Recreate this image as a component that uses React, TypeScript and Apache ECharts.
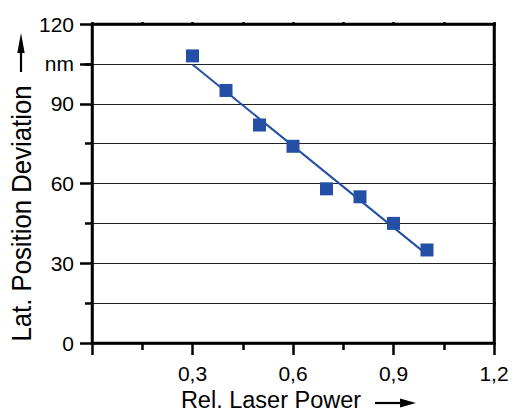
import React, { useEffect, useRef } from "react";
import * as echarts from "echarts";

const laserPower = [0.3, 0.4, 0.5, 0.6, 0.7, 0.8, 0.9, 1.0];
const deviation = [108, 95, 82, 74, 58, 55, 45, 35];
const yLabelValues = [0, 30, 60, 90, 105, 120];
const yLabelTexts: Record<number, string> = { 0: "0", 30: "30", 60: "60", 90: "90", 105: "nm", 120: "120" };
const xTitle = "Rel. Laser Power";
const yTitle = "Lat. Position Deviation";

const FONT = "'Liberation Sans', Arial, Helvetica, sans-serif";
const BLUE = "#2350a5";

function linearFit(xs: number[], ys: number[]): number[][] {
  const n = xs.length;
  const mx = xs.reduce((a, b) => a + b, 0) / n;
  const my = ys.reduce((a, b) => a + b, 0) / n;
  let sxy = 0;
  let sxx = 0;
  for (let i = 0; i < n; i++) {
    sxy += (xs[i] - mx) * (ys[i] - my);
    sxx += (xs[i] - mx) * (xs[i] - mx);
  }
  const slope = sxy / sxx;
  const x0 = Math.min(...xs);
  const x1 = Math.max(...xs);
  return [
    [x0, my + slope * (x0 - mx)],
    [x1, my + slope * (x1 - mx)],
  ];
}

export default function App() {
  const ref = useRef<HTMLDivElement>(null);
  useEffect(() => {
    if (!ref.current) return;
    const chart = echarts.init(ref.current, null, { renderer: "svg" });
    const axisLineStyle = { color: "#000", width: 2.5 };
    const fitLine = linearFit(laserPower, deviation);
    chart.setOption({
      animation: false,
      backgroundColor: "#fff",
      textStyle: { fontFamily: FONT },
      grid: {
        left: 92,
        right: 18,
        top: 24,
        bottom: 69,
        show: true,
        borderColor: "#000",
        borderWidth: 2.5,
        backgroundColor: "transparent",
      },
      xAxis: [
        {
          type: "value",
          position: "bottom",
          min: 0,
          max: 1.2,
          interval: 0.3,
          axisLine: { show: true, onZero: false, lineStyle: axisLineStyle },
          axisTick: { show: true, length: 12, lineStyle: axisLineStyle },
          minorTick: { show: true, splitNumber: 2, length: 7, lineStyle: axisLineStyle },
          axisLabel: {
            formatter: (v: number) => (v === 0 ? "" : v.toFixed(1).replace(".", ",")),
            fontSize: 21,
            color: "#000",
            margin: 20,
            fontFamily: FONT,
            showMaxLabel: true,
          },
          splitLine: { show: false },
        },
        {
          type: "value",
          position: "top",
          min: 0,
          max: 1.2,
          interval: 0.3,
          axisLine: { show: true, onZero: false, lineStyle: axisLineStyle },
          axisTick: { show: true, length: 2, lineStyle: axisLineStyle },
          minorTick: { show: true, splitNumber: 2, length: 2, lineStyle: axisLineStyle },
          axisLabel: { show: false },
          splitLine: { show: false },
        },
      ],
      yAxis: [
        {
          type: "value",
          position: "left",
          min: 0,
          max: 120,
          interval: 30,
          axisLine: { show: true, onZero: false, lineStyle: axisLineStyle },
          axisTick: { show: true, length: 12, lineStyle: axisLineStyle, customValues: yLabelValues },
          minorTick: { show: true, splitNumber: 2, length: 7, lineStyle: axisLineStyle },
          axisLabel: {
            customValues: yLabelValues,
            formatter: (v: number) => yLabelTexts[v] ?? "",
            fontSize: 21,
            color: "#000",
            margin: 18,
            fontFamily: FONT,
          },
          splitLine: { show: true, lineStyle: { color: "#222", width: 1 } },
          minorSplitLine: { show: true, lineStyle: { color: "#222", width: 1 } },
        },
        {
          type: "value",
          position: "right",
          min: 0,
          max: 120,
          interval: 30,
          axisLine: { show: true, onZero: false, lineStyle: axisLineStyle },
          axisTick: { show: true, length: 2, lineStyle: axisLineStyle },
          minorTick: { show: true, splitNumber: 2, length: 2, lineStyle: axisLineStyle },
          axisLabel: { show: false },
          splitLine: { show: false },
        },
      ],
      series: [
        {
          type: "line",
          xAxisIndex: 0,
          yAxisIndex: 0,
          data: fitLine,
          symbol: "none",
          lineStyle: { color: BLUE, width: 2 },
          z: 2,
          silent: true,
        },
        {
          type: "scatter",
          xAxisIndex: 0,
          yAxisIndex: 0,
          data: laserPower.map((x, i) => [x, deviation[i]]),
          symbol: "rect",
          symbolSize: 13,
          itemStyle: { color: BLUE, opacity: 1 },
          z: 3,
        },
      ],
      graphic: [
        {
          type: "text",
          x: 22,
          y: 213.5,
          rotation: Math.PI / 2,
          scaleX: 0.92,
          style: {
            text: yTitle,
            fontSize: 28,
            fontFamily: FONT,
            fill: "#000",
            align: "center",
            verticalAlign: "middle",
          },
        },
        {
          type: "text",
          x: 271,
          y: 400,
          style: {
            text: xTitle,
            fontSize: 23.5,
            fontFamily: FONT,
            fill: "#000",
            align: "center",
            verticalAlign: "middle",
          },
        },
        {
          type: "line",
          shape: { x1: 375, y1: 403, x2: 402, y2: 403 },
          style: { stroke: "#000", lineWidth: 2.2 },
        },
        {
          type: "polygon",
          shape: { points: [[400, 398.5], [416, 403], [400, 407.5]] },
          style: { fill: "#000" },
        },
        {
          type: "line",
          shape: { x1: 21, y1: 72, x2: 21, y2: 50 },
          style: { stroke: "#000", lineWidth: 2.2 },
        },
        {
          type: "polygon",
          shape: { points: [[21, 33], [17.3, 53], [24.7, 53]] },
          style: { fill: "#000" },
        },
      ],
    });
    return () => chart.dispose();
  }, []);
  return (
    <div
      ref={ref}
      style={{ position: "fixed", left: 0, top: 0, width: 512, height: 412, background: "#fff" }}
    />
  );
}
